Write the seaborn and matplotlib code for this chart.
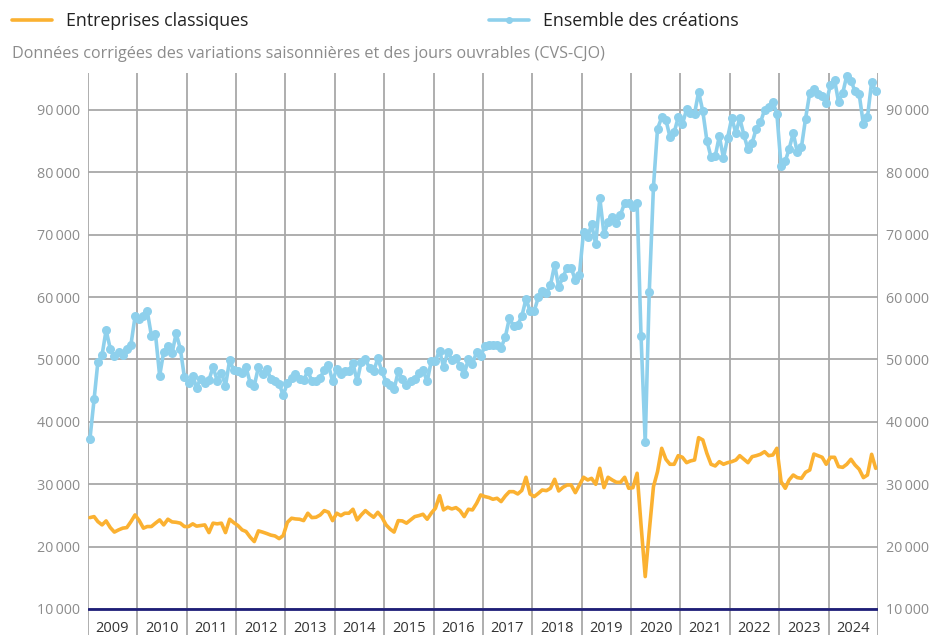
import matplotlib
matplotlib.use("Agg")
import matplotlib.pyplot as plt
from matplotlib.lines import Line2D
from matplotlib.ticker import FuncFormatter
import pandas as pd
import seaborn as sns

# monthly values, jan 2009 -> dec 2024
years = [str(y) for y in range(2009, 2025)]

ensemble = [
    37200, 43600, 49600, 50700, 54700, 51700, 50500, 51200, 50700, 51700, 52400, 56900,  # 2009
    56500, 56900, 57800, 53800, 54100, 47400, 51200, 52100, 51000, 54200, 51700, 47200,  # 2010
    46300, 47400, 45500, 46900, 46200, 46700, 48800, 46600, 47900, 45800, 49900, 48300,  # 2011
    48100, 47800, 48800, 46200, 45800, 48800, 47600, 48500, 46900, 46600, 46100, 44300,  # 2012
    46200, 47100, 47600, 46900, 46700, 48100, 46600, 46600, 47100, 48300, 49100, 46500,  # 2013
    48500, 47600, 48100, 48200, 49400, 46500, 49600, 50000, 48600, 48100, 50200, 48100,  # 2014
    46400, 45900, 45200, 48100, 46900, 45900, 46600, 46800, 47800, 48300, 46500, 49700,  # 2015
    49800, 51400, 48800, 51200, 49900, 50200, 48900, 47600, 50100, 49300, 51200, 50500,  # 2016
    52200, 52300, 52300, 52300, 51900, 53600, 56600, 55400, 55600, 56900, 59700, 57800,  # 2017
    57800, 60000, 61000, 60700, 61900, 65200, 61600, 63200, 64700, 64700, 62700, 63600,  # 2018
    70500, 69600, 71700, 68500, 75900, 70100, 72000, 72800, 71900, 73200, 75100, 75100,  # 2019
    74500, 75100, 53800, 36700, 60900, 77700, 87000, 88800, 88400, 85700, 86400, 88800,  # 2020
    87700, 90100, 89500, 89400, 92900, 89800, 85100, 82400, 82600, 85800, 82300, 85500,  # 2021
    88700, 86300, 88700, 86000, 83700, 84700, 87000, 88000, 90000, 90500, 91300, 89400,  # 2022
    81000, 81800, 83700, 86300, 83200, 84100, 88600, 92700, 93300, 92500, 92200, 91200,  # 2023
    94000, 94800, 91300, 92700, 95500, 94700, 93000, 92500, 87700, 88800, 94500, 93000,  # 2024
]

classiques = [
    24650, 24810, 24010, 23480, 24120, 23050, 22330, 22680, 22960, 23050, 24010, 25080,  # 2009
    24170, 22960, 23220, 23220, 23760, 24280, 23480, 24390, 23960, 23900, 23760, 23220,  # 2010
    23220, 23650, 23280, 23380, 23480, 22250, 23760, 23650, 23760, 22250, 24390, 23840,  # 2011
    23380, 22680, 22420, 21510, 20810, 22520, 22330, 22100, 21840, 21710, 21280, 21770,  # 2012
    23900, 24550, 24440, 24390, 24170, 25350, 24650, 24710, 25080, 25770, 25510, 24170,  # 2013
    25350, 24970, 25350, 25350, 25990, 24280, 25080, 25770, 25190, 24710, 25500, 24710,  # 2014
    23480, 22790, 22330, 24170, 24120, 23760, 24280, 24810, 24970, 25190, 24390, 25350,  # 2015
    26150, 28170, 25880, 26310, 26040, 26250, 25770, 24810, 25990, 25880, 26950, 28280,  # 2016
    28020, 27860, 27590, 27750, 27220, 28120, 28810, 28810, 28440, 29000, 31120, 28440,  # 2017
    28020, 28550, 29080, 28970, 29350, 30790, 28920, 29510, 29880, 29880, 28650, 29880,  # 2018
    31120, 30680, 30950, 29990, 32560, 29460, 31120, 30680, 30310, 30310, 31120, 29350,  # 2019
    29450, 31760, 23500, 15200, 22500, 29620, 32020, 35760, 34000, 33200, 33200, 34580,  # 2020
    34320, 33460, 33730, 33890, 37470, 37100, 34960, 33200, 32930, 33620, 33200, 33460,  # 2021
    33620, 33890, 34580, 34000, 33460, 34420, 34580, 34800, 35220, 34580, 34690, 35760,  # 2022
    30410, 29350, 30680, 31480, 31060, 30950, 31910, 32280, 34840, 34580, 34320, 33200,  # 2023
    34320, 34320, 32820, 32710, 33200, 34000, 33090, 32400, 31060, 31480, 34800, 32550,  # 2024
]

ORANGE = "#fbb131"
BLUE = "#8ed0ec"
NAVY = "#1e1e78"
GREY_TXT = "#8c8c8c"

sns.set_theme(style="white")
plt.rcParams["font.family"] = ["Open Sans", "DejaVu Sans"]

mois = pd.date_range("2009-01-01", periods=len(ensemble), freq="MS") + pd.Timedelta(days=14)
df = pd.DataFrame({"mois": mois, "ensemble": ensemble, "classiques": classiques})

fig = plt.figure(figsize=(9.33, 6.35), dpi=100)
ax = fig.add_axes([88 / 933, 0, 790 / 933, (635 - 73) / 635])

sns.lineplot(data=df, x="mois", y="ensemble", ax=ax, color=BLUE, linewidth=2.6,
             marker="o", markersize=6.5, markeredgewidth=0, zorder=3, clip_on=False)
sns.lineplot(data=df, x="mois", y="classiques", ax=ax, color=ORANGE, linewidth=2.6, zorder=4)

ax.set_xlim(pd.Timestamp("2009-01-01"), pd.Timestamp("2025-01-01"))
ax.set_ylim(5830, 95930)
ax.set_yticks(range(10000, 100000, 10000))
ax.yaxis.set_major_formatter(FuncFormatter(lambda v, p: f"{int(v):,}".replace(",", "\u2009")))
ax.set_xticks([pd.Timestamp(f"{y}-01-01") for y in range(2009, 2026)])
ax.set_xticklabels([])
ax.set_xlabel("")
ax.set_ylabel("")

ax.grid(True, color="#a8a8a8", linewidth=1.3)
ax.set_axisbelow(True)
ax.axhline(10000, color=NAVY, linewidth=2, zorder=2.5)

for s in ax.spines.values():
    s.set_visible(False)

ax.tick_params(axis="y", left=False, right=False, labelleft=True, labelright=True,
               length=0, labelsize=10.3, labelcolor=GREY_TXT, pad=6)
ax.tick_params(axis="x", bottom=False, labelbottom=False, length=0)

# year labels under the navy line
for y in years:
    ax.text(pd.Timestamp(f"{y}-07-01"), 0.011, y, transform=ax.get_xaxis_transform(),
            ha="center", va="center", fontsize=10.5, color="#333333")

handles = [Line2D([], [], color=ORANGE, linewidth=2.6),
           Line2D([], [], color=BLUE, linewidth=2.6, marker="o", markersize=4)]
fig.legend(handles, ["Entreprises classiques", "Ensemble des créations"],
           loc="center left", bbox_to_anchor=(12 / 933, 1 - 21 / 635), ncol=2,
           frameon=False, fontsize=12.8, handlelength=2.25, handletextpad=0.8,
           columnspacing=13.5, borderaxespad=0, borderpad=0, labelcolor="#222222")

fig.text(12 / 933, 1 - 54 / 635,
         "Données corrigées des variations saisonnières et des jours ouvrables (CVS-CJO)",
         fontsize=11.6, color=GREY_TXT, va="center")

fig.savefig("out.png", dpi=100)
